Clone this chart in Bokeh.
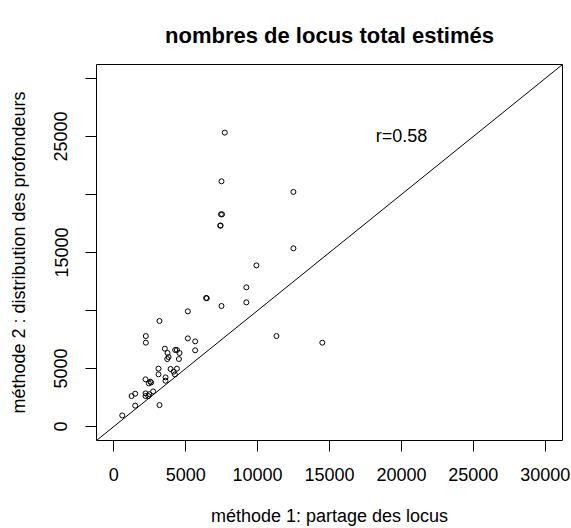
from bokeh.plotting import figure
from bokeh.models import Range1d, FixedTicker, Slope, Label, ColumnDataSource
from bokeh.embed import file_html
from bokeh.resources import INLINE

# ---- data ----
methode1 = [7720, 7490, 12490, 7450, 7530, 7400, 7430, 12490, 9920, 9220,
            9220, 6420, 6470, 7490, 5150, 3180, 2230, 2230, 11310, 14500,
            5150, 5660, 5660, 3550, 4270, 4390, 4570, 3740, 3810, 3720,
            4530, 3110, 3110, 3950, 4390, 4160, 4250, 3600, 3600, 2210,
            2540, 2440, 2600, 2740, 2210, 2210, 2470, 2400, 1240, 1490,
            1490, 3180, 590]
methode2 = [25330, 21135, 20220, 18290, 18290, 17310, 17330, 15360, 13890, 12000,
            10700, 11080, 11060, 10390, 9930, 9100, 7800, 7230, 7800, 7230,
            7600, 7340, 6570, 6710, 6600, 6600, 6340, 6340, 5990, 5820,
            5820, 4990, 4500, 4960, 4990, 4730, 4500, 4240, 3950, 4070,
            3870, 3720, 3800, 3030, 2860, 2630, 2790, 2630, 2630, 2830,
            1800, 1850, 960]
ticks = [0, 5000, 10000, 15000, 20000, 25000, 30000]
y_hidden_labels = [10000, 20000, 30000]
axis_lim = [0, 30000]
r_text = "r=0.58"
r_pos = (20000, 25000)

title_txt = "nombres de locus total estimés"
xlab = "méthode 1: partage des locus"
ylab = "méthode 2 : distribution des profondeurs"

FONT = "Liberation Sans"

pad = 0.04 * (axis_lim[1] - axis_lim[0])
p = figure(width=571, height=528, output_backend="svg", toolbar_location=None,
           x_range=Range1d(axis_lim[0] - pad, axis_lim[1] + pad),
           y_range=Range1d(axis_lim[0] - pad, axis_lim[1] + pad),
           min_border_left=96, min_border_right=9, min_border_top=64,
           min_border_bottom=87, title=title_txt)

p.background_fill_color = "white"
p.border_fill_color = "white"
p.outline_line_color = "black"
p.outline_line_width = 1
p.grid.visible = False

p.title.text_font = FONT
p.title.text_font_size = "22px"
p.title.text_font_style = "bold"
p.title.text_color = "black"
p.title.align = "center"
p.title.vertical_align = "top"
p.title.standoff = 30

for ax in (p.xaxis[0], p.yaxis[0]):
    ax.ticker = FixedTicker(ticks=ticks, minor_ticks=[])
    ax.axis_line_color = None
    ax.major_tick_line_color = "black"
    ax.major_tick_line_width = 1
    ax.major_tick_out = 11
    ax.major_tick_in = 0
    ax.minor_tick_line_color = None
    ax.major_label_text_font = FONT
    ax.major_label_text_font_size = "18px"
    ax.major_label_text_color = "black"
    ax.axis_label_text_font = FONT
    ax.axis_label_text_font_size = "18px"
    ax.axis_label_text_font_style = "normal"
    ax.axis_label_text_color = "black"

p.xaxis.axis_label = xlab
p.xaxis.major_label_standoff = 16
p.xaxis.axis_label_standoff = 22

p.yaxis.axis_label = ylab
p.yaxis.major_label_orientation = "vertical"
p.yaxis.major_label_standoff = 18
p.yaxis.axis_label_standoff = 23
p.yaxis.major_label_overrides = {v: "" for v in y_hidden_labels}

src = ColumnDataSource(dict(x=methode1, y=methode2))
p.scatter("x", "y", source=src, marker="circle", size=5,
          fill_color=None, line_color="black", line_width=1)

p.add_layout(Slope(gradient=1, y_intercept=0, line_color="black", line_width=1))

p.add_layout(Label(x=r_pos[0], y=r_pos[1], text=r_text, text_align="center",
                   text_baseline="middle", text_font=FONT,
                   text_font_size="18px", text_color="black"))

open("out.html", "w").write(file_html(p, INLINE))
